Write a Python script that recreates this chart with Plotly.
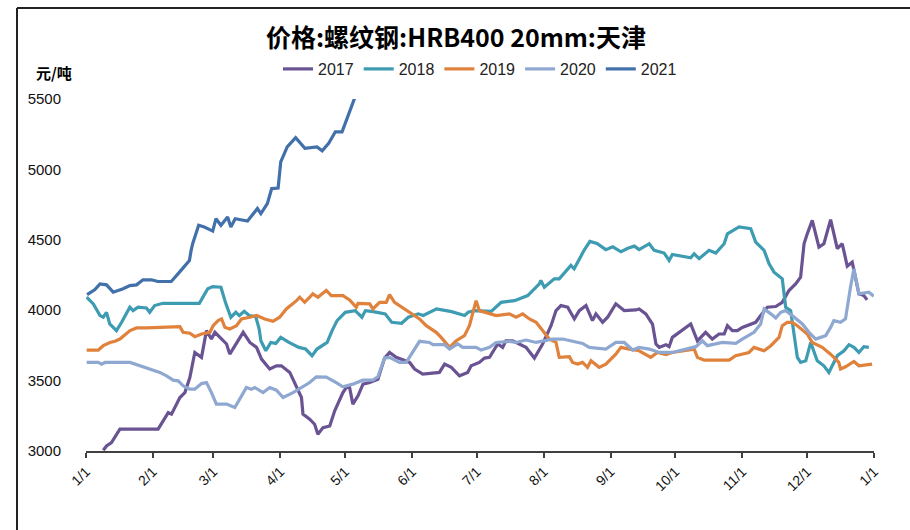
import plotly.graph_objects as go

# ---- axis categories ----
month_ticks = [0, 31, 59, 90, 120, 151, 181, 212, 243, 273, 304, 334, 365]
month_labels = ["1/1", "2/1", "3/1", "4/1", "5/1", "6/1", "7/1", "8/1",
                "9/1", "10/1", "11/1", "12/1", "1/1"]
y_ticks = [3000, 3500, 4000, 4500, 5000, 5500]

# ---- series (x = day of year, y = 元/吨) ----
days_2017 = [8, 9.5, 11.8, 15.7, 33.4, 35.7, 38.1, 39.6, 43.5, 45.8,
             48.1, 50.4, 53.5, 55.8, 58.1, 59.7, 65.1, 66.6, 68.9, 72.8,
             75.9, 79, 81.3, 85.1, 88.2, 90.5, 94.4, 98.2, 99.8, 100.5,
             103.6, 105.9, 107.4, 109.8, 112.9, 115.2, 119, 120.6, 122.1, 123.6,
             126, 128.3, 131.4, 135.2, 138.3, 140.6, 143.7, 149.9, 152.2, 156,
             163.7, 166.1, 169.2, 173, 176.8, 178.4, 182.2, 184.6, 186.9, 190.7,
             193, 194.5, 197.6, 203.8, 207.7, 211.5, 215.4, 217.7, 220, 223.1,
             226.2, 228.5, 231.6, 234.6, 236.2, 239.3, 241.6, 245.4, 249.3, 254.7,
             256.2, 259.3, 262.4, 264, 265.5, 268.6, 270.1, 271.6, 274.7, 280.1,
             283.2, 287, 290.1, 293.2, 295.6, 297.1, 299.4, 301.7, 304, 307.1,
             310.2, 312.5, 315.6, 319.5, 322.5, 325.6, 328.7, 331, 332.6, 334.1,
             336.4, 339.5, 341.8, 344.9, 348, 350.3, 352.6, 354.9, 358, 360.3,
             361.8]
values_2017 = [3005, 3036, 3059, 3155, 3155, 3214, 3273, 3262, 3380, 3415,
               3522, 3700, 3665, 3855, 3795, 3843, 3760, 3688, 3748, 3843,
               3771, 3736, 3653, 3582, 3605, 3605, 3558, 3427, 3380, 3262,
               3226, 3190, 3119, 3166, 3178, 3285, 3415, 3451, 3451, 3333,
               3392, 3475, 3486, 3510, 3660, 3700, 3665, 3629, 3582, 3546,
               3558, 3617, 3594, 3534, 3558, 3605, 3629, 3660, 3665, 3760,
               3736, 3783, 3783, 3736, 3660, 3760, 3890, 3997, 4033, 4021,
               3938, 3997, 4033, 3926, 3974, 3914, 3950, 4045, 3997, 4002,
               4009, 3974, 3902, 3760, 3736, 3755, 3741, 3807, 3843, 3902,
               3783, 3843, 3795, 3831, 3831, 3890, 3855, 3855, 3878, 3897,
               3914, 3962, 4021, 4026, 4056, 4140, 4187, 4235, 4472, 4543,
               4638, 4448, 4472, 4643, 4437, 4472, 4313, 4341, 4116, 4104,
               4073]

days_2018 = [0.3, 3.4, 6.5, 8, 9.5, 11, 14.1, 16.5, 20.3, 21.8,
             24.1, 28, 29.5, 31.8, 35.6, 52.5, 56.4, 58.7, 62.5, 64.8,
             67.1, 69.4, 71, 73.3, 75.6, 78.6, 80.2, 81, 83.3, 85.6,
             87.9, 90.2, 94, 98.6, 101.7, 104.7, 107, 111.7, 114, 116.3,
             120.1, 124.7, 127.8, 129.4, 133, 138.6, 141.6, 146.2, 149.3, 153.9,
             156.2, 162.4, 169.3, 175.4, 177, 180, 187.7, 192.3, 198.5, 204.6,
             210, 210.7, 212.3, 216.9, 219.2, 223, 224.6, 226.1, 229.2, 230.7,
             233.4, 236.7, 240.8, 244, 247.8, 251, 254, 256.2, 260.9, 263.2,
             267.8, 270.1, 271.6, 280.1, 281.7, 284, 288.6, 291.7, 295.6, 297.1,
             302.5, 307.9, 310.2, 314.1, 316.4, 318.7, 322.5, 324.1, 326.4, 327.9,
             329.5, 331, 333.4, 335.7, 338.7, 341.8, 344.1, 348, 351.1, 353.4,
             355.7, 358, 360.3, 362.6]
values_2018 = [4092, 4045, 3962, 3950, 3985, 3902, 3855, 3914, 4021, 3997,
               4021, 4016, 3985, 4033, 4049, 4049, 4152, 4168, 4163, 4045,
               3950, 3985, 3962, 3992, 3962, 3955, 3867, 3783, 3712, 3771,
               3764, 3807, 3771, 3736, 3724, 3677, 3724, 3771, 3855, 3926,
               3985, 3997, 3950, 3997, 3990, 3974, 3914, 3907, 3950, 3974,
               3962, 4009, 3990, 3962, 3985, 3997, 3992, 4056, 4068, 4104,
               4187, 4211, 4163, 4223, 4223, 4294, 4318, 4294, 4389, 4425,
               4489, 4474, 4430, 4450, 4415, 4440, 4455, 4430, 4472, 4425,
               4406, 4353, 4396, 4372, 4401, 4366, 4425, 4406, 4472, 4543,
               4591, 4579, 4484, 4425, 4330, 4270, 4223, 4021, 3997, 3831,
               3665, 3629, 3641, 3771, 3641, 3605, 3558, 3677, 3712, 3755,
               3736, 3700, 3741, 3736]

days_2019 = [0.3, 5.7, 8, 11.1, 13.4, 15.7, 20.4, 23.4, 28.1, 35.8,
             43.5, 45, 48.1, 50.4, 53.5, 57.4, 58.9, 61.2, 62.8, 64.3,
             66.6, 69.7, 72, 75.9, 79, 82.8, 86.6, 89.7, 92.8, 97.5,
             99, 101.3, 105.1, 107.4, 111.3, 113.6, 119, 122.1, 125.2, 126,
             131.4, 132.9, 136, 139.1, 140.6, 142.9, 145.2, 149.9, 154.5, 157.6,
             162.2, 164.5, 167.6, 168.4, 171.5, 175.3, 177.6, 180.7, 182.2, 184.6,
             190, 196.1, 199.2, 202.3, 205.4, 208.5, 211.5, 214.6, 217.7, 219.2,
             223.9, 225.4, 227.7, 230, 232.3, 233.9, 237.7, 240.8, 245.4, 247.8,
             251.6, 256.2, 261.6, 264.7, 268.6, 271.6, 281.7, 283.2, 286.3, 297.9,
             300.9, 307.1, 309.4, 314.1, 317.2, 321, 322.5, 324.8, 327.1, 329.5,
             334.1, 336.4, 341, 344.9, 348.7, 349.5, 351.8, 355.7, 358, 364.1]
values_2019 = [3717, 3717, 3748, 3771, 3779, 3795, 3855, 3874, 3874, 3879,
               3883, 3843, 3836, 3812, 3831, 3843, 3890, 3926, 3938, 3879,
               3867, 3890, 3938, 3950, 3962, 3938, 3921, 3950, 4009, 4068,
               4092, 4056, 4116, 4092, 4140, 4104, 4104, 4073, 4021, 4049,
               4045, 4009, 4056, 4056, 4111, 4056, 4033, 3985, 3938, 3890,
               3843, 3807, 3748, 3736, 3783, 3819, 3890, 4068, 3997, 3985,
               3962, 3974, 3950, 3974, 3938, 3914, 3855, 3795, 3771, 3665,
               3670, 3629, 3617, 3629, 3594, 3641, 3594, 3617, 3688, 3736,
               3724, 3712, 3665, 3700, 3684, 3700, 3724, 3665, 3646, 3646,
               3677, 3700, 3736, 3712, 3748, 3807, 3890, 3914, 3914, 3890,
               3831, 3771, 3736, 3688, 3629, 3582, 3598, 3636, 3605, 3617]

days_2020 = [0.3, 5.7, 7.2, 8.8, 20.4, 25, 34.2, 37.3, 40.4, 42.7,
             45, 48.1, 50.4, 53.5, 55.8, 58.1, 60.4, 65.1, 68.9, 71.2,
             74.3, 76.6, 78.2, 82, 85.1, 88.2, 91.3, 95.9, 101.3, 103.6,
             106.7, 111.3, 115.9, 119, 123.6, 128.2, 132.9, 135.2, 138.3, 140.6,
             145.2, 148.3, 154.5, 159.1, 160.7, 166.1, 168.4, 172.2, 174.5, 180.7,
             183, 186.9, 190, 196.1, 199.2, 203.8, 208.5, 216.1, 220.8, 225.4,
             230, 233.1, 240.8, 245.4, 249.3, 253.2, 256.2, 260.9, 265.5, 271.6,
             276.2, 282.5, 285.5, 287.8, 294.8, 301, 304, 309.4, 312.5, 314.1,
             317.2, 319.5, 321.8, 324.1, 327.1, 331.8, 334.9, 338, 340.3, 342.6,
             344.9, 346.4, 349.5, 351.8, 354.1, 355.7, 358, 362.6, 364.9]
values_2020 = [3629, 3629, 3617, 3629, 3629, 3605, 3558, 3534, 3503, 3498,
               3463, 3439, 3439, 3479, 3486, 3415, 3333, 3333, 3309, 3368,
               3451, 3439, 3451, 3415, 3451, 3432, 3380, 3415, 3463, 3486,
               3527, 3525, 3486, 3456, 3475, 3503, 3503, 3527, 3660, 3665,
               3629, 3629, 3779, 3771, 3755, 3755, 3724, 3760, 3736, 3736,
               3717, 3736, 3771, 3779, 3771, 3788, 3771, 3795, 3795, 3779,
               3764, 3736, 3724, 3771, 3771, 3717, 3736, 3724, 3700, 3700,
               3717, 3741, 3783, 3748, 3771, 3764, 3795, 3843, 3902, 4009,
               3974, 3945, 3985, 3997, 3962, 3902, 3843, 3795, 3807, 3819,
               3878, 3926, 3914, 3938, 4163, 4294, 4116, 4128, 4099]

days_2021 = [0.5, 4, 6.5, 9.5, 12.6, 17.2, 20.3, 23.4, 26.4, 30.3,
             33.3, 39.5, 43.3, 47.9, 48.7, 49.4, 52.2, 54.8, 58.7, 60.2,
             62.5, 65.6, 67.1, 69.1, 74.8, 79.4, 81, 84, 86, 89,
             90.2, 93.2, 97.1, 101.4, 107, 109.4, 112.4, 115.5, 118.6, 124.4]
values_2021 = [4110, 4145, 4187, 4180, 4128, 4152, 4175, 4180, 4216, 4216,
               4204, 4204, 4270, 4353, 4425, 4472, 4603, 4591, 4562, 4650,
               4603, 4662, 4591, 4650, 4633, 4722, 4686, 4757, 4864, 4868,
               5053, 5160, 5225, 5149, 5160, 5132, 5185, 5267, 5267, 5505]

series_names = ["2017", "2018", "2019", "2020", "2021"]
series_days = [days_2017, days_2018, days_2019, days_2020, days_2021]
series_values = [values_2017, values_2018, values_2019, values_2020, values_2021]
series_colors = ["#6A5392", "#3D9BB2", "#E0823B", "#8EA8D1", "#4170AA"]

for d, v in zip(series_days, series_values):
    assert len(d) == len(v)

fig = go.Figure()
for name, d, v, c in zip(series_names, series_days, series_values, series_colors):
    fig.add_trace(go.Scatter(x=d, y=v, mode="lines", name=name,
                             line=dict(color=c, width=3.2)))

# plot area in pixels: x 86..874, y 99..451
L, R, T, B = 86, 874, 99, 451
W, H = 910, 530
def px(x):
    return (x - L) / (R - L)
def py(y):
    return (B - y) / (B - T)

fig.update_layout(
    width=W, height=H,
    margin=dict(l=L, r=W - R, t=T, b=H - B, pad=0, autoexpand=False),
    plot_bgcolor="white", paper_bgcolor="white",
    title=dict(text="价格:螺纹钢:HRB400 20mm:天津", xref="container", yref="container",
               x=456 / W, y=1 - 38 / H, xanchor="center", yanchor="middle",
               font=dict(family="Noto Sans CJK SC", size=25, color="#000000", weight="bold")),
    showlegend=True,
    legend=dict(orientation="h", x=0.5, xanchor="center", y=py(69), yanchor="middle",
                font=dict(family="Liberation Sans Narrow, Liberation Sans, Arial", size=16,
                          color="#222222"),
                bgcolor="rgba(0,0,0,0)", itemwidth=30, tracegroupgap=0),
    xaxis=dict(range=[0, 365], tickvals=month_ticks, ticktext=month_labels,
               tickangle=-45, showgrid=False, zeroline=False,
               showline=True, linecolor="#404040", linewidth=2,
               ticks="outside", ticklen=5, tickwidth=1.5, tickcolor="#404040",
               tickfont=dict(family="Liberation Sans, Arial", size=14, color="#111111")),
    yaxis=dict(range=[3000, 5500], tickvals=y_ticks, showgrid=False, zeroline=False,
               showline=False, ticks="", ticklabelstandoff=24,
               tickfont=dict(family="Liberation Sans, Arial", size=15, color="#111111")),
    shapes=[
        dict(type="line", xref="paper", yref="paper", x0=px(17), x1=px(17),
             y0=py(H + 5), y1=py(8), line=dict(color="#222222", width=2)),
        dict(type="line", xref="paper", yref="paper", x0=px(17), x1=px(W + 5),
             y0=py(8), y1=py(8), line=dict(color="#222222", width=2)),
    ],
    annotations=[
        dict(text="元/吨", xref="paper", yref="paper", x=px(54), y=py(73),
             xanchor="center", yanchor="middle", showarrow=False,
             font=dict(family="Noto Sans CJK SC", size=15, color="#000000", weight="bold")),
    ],
)

fig.write_html("out.html", config={"displayModeBar": False},
               post_script="document.body.style.margin='0';document.body.style.overflow='hidden';")
